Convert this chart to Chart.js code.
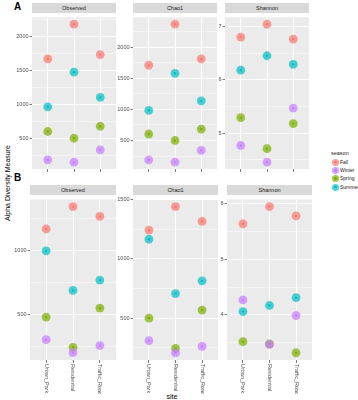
<!DOCTYPE html>
<html>
<head>
<meta charset="utf-8">
<script src="https://cdn.jsdelivr.net/npm/chart.js@4"></script>
<style>
  body { margin: 0; background: #fff; width: 358px; height: 400px; position: relative; overflow: hidden;
         font-family: "Liberation Sans", Arial, sans-serif; }
  canvas, .strip, .txt { position: absolute; }
  .strip { background: #D9D9D9; color: #1A1A1A; font-size: 5.5px; text-align: center; line-height: 10px; height: 10px; }
  .txt { white-space: nowrap; }
  .tag { font-weight: bold; font-size: 10px; }
  .key { position: absolute; width: 7px; height: 7px; border-radius: 50%; }
  .dot { position: absolute; left: 2.3px; top: 2.3px; width: 2.4px; height: 2.4px; border-radius: 50%; }
</style>
</head>
<body>
<div class="txt tag" style="left:14px;top:1px;">A</div>
<div class="txt tag" style="left:14px;top:172px;">B</div>
<div class="txt" style="left:7px;top:183px;font-size:7px;transform:translate(-50%,-50%) rotate(-90deg);">Alpha Diversity Measure</div>
<div class="txt" style="left:172px;top:393px;font-size:7px;transform:translateX(-50%);">site</div>

<script>
// categories
const sites = ['Urban_Park', 'Residential', 'Traffic_Road'];
const seasons = ['Fall', 'Winter', 'Spring', 'Summer'];
const colors = ['#F8766D', '#C77CFF', '#7CAE00', '#00BFC4'];

// values per season (Fall, Winter, Spring, Summer), one number per site
const observedA = [[1672, 2181, 1734], [187, 154, 333], [604, 505, 681], [967, 1476, 1104]];
const chao1A    = [[1709, 2368, 1810], [189, 153, 342], [604, 500, 683], [984, 1579, 1137]];
const shannonA  = [[6.80, 7.04, 6.76], [4.77, 4.46, 5.47], [5.29, 4.71, 5.18], [6.18, 6.45, 6.29]];
const observedB = [[1168, 1343, 1266], [304, 202, 257], [480, 244, 550], [997, 688, 769]];
const chao1B    = [[1240, 1438, 1314], [311, 208, 262], [500, 246, 568], [1164, 707, 814]];
const shannonB  = [[5.64, 5.95, 5.78], [4.27, 3.47, 3.99], [3.52, 3.48, 3.32], [4.06, 4.17, 4.31]];

// tick labels
const obsATicks = [500, 1000, 1500, 2000];
const obsAMinor = [250, 750, 1250, 1750, 2250];
const chaoATicks = [500, 1000, 1500, 2000];
const chaoAMinor = [250, 750, 1250, 1750, 2250];
const shanATicks = [5, 6, 7];
const shanAMinor = [4.5, 5.5, 6.5];
const obsBTicks = [500, 1000];
const obsBMinor = [250, 750, 1250];
const chaoBTicks = [500, 1000, 1500];
const chaoBMinor = [250, 750, 1250];
const shanBTicks = [4, 5, 6];
const shanBMinor = [3.5, 4.5, 5.5];

const FONT = '"Liberation Sans", Arial, sans-serif';

function alpha(hex, a) {
  const n = parseInt(hex.slice(1), 16);
  return `rgba(${n >> 16},${(n >> 8) & 255},${n & 255},${a})`;
}

const panelBg = {
  id: 'panelBg',
  beforeDraw(chart) {
    const a = chart.chartArea, c = chart.ctx;
    c.save();
    c.fillStyle = '#EBEBEB';
    c.fillRect(a.left, a.top, a.right - a.left, a.bottom - a.top);
    c.restore();
  }
};

const siteLabels = {
  id: 'siteLabels',
  afterDraw(chart) {
    if (!chart.options.plugins.siteLabels.show) return;
    const c = chart.ctx, xs = chart.scales.x, bottom = chart.chartArea.bottom;
    c.save();
    c.fillStyle = '#4D4D4D';
    c.font = '5.5px ' + FONT;
    c.textAlign = 'left';
    c.textBaseline = 'middle';
    sites.forEach((s, i) => {
      c.save();
      c.translate(xs.getPixelForValue(i), bottom + 4);
      c.rotate(Math.PI / 2);
      c.fillText(s, 0, 0);
      c.restore();
    });
    c.restore();
  }
};

function panel(title, box, values, yMin, yMax, majors, minors, showSites) {
  const YW = 20, XH = showSites ? 34 : 5;
  const strip = document.createElement('div');
  strip.className = 'strip';
  strip.style.cssText = `left:${box.x}px;top:${box.y - 10}px;width:${box.w}px;`;
  strip.textContent = title;
  document.body.appendChild(strip);

  const cv = document.createElement('canvas');
  cv.width = box.w + YW;
  cv.height = box.h + XH;
  cv.style.left = (box.x - YW) + 'px';
  cv.style.top = box.y + 'px';
  document.body.appendChild(cv);

  const datasets = [];
  values.forEach((vals, k) => {
    const pts = vals.map((v, i) => ({ x: i, y: v }));
    datasets.push({ label: seasons[k], data: pts, pointRadius: 4.4, borderWidth: 0,
                    backgroundColor: alpha(colors[k], 0.7) });
    datasets.push({ label: seasons[k], data: pts, pointRadius: 1.2, borderWidth: 0,
                    backgroundColor: colors[k] });
  });

  new Chart(cv, {
    type: 'scatter',
    data: { datasets },
    plugins: [panelBg, siteLabels],
    options: {
      responsive: false,
      animation: false,
      events: [],
      layout: { padding: 0, autoPadding: false },
      plugins: { legend: { display: false }, tooltip: { enabled: false }, siteLabels: { show: showSites } },
      scales: {
        x: {
          type: 'linear', min: -0.6, max: 2.6,
          afterBuildTicks: s => { s.ticks = sites.map((_, i) => ({ value: i })); },
          afterFit: s => { s.height = XH; },
          ticks: { display: false },
          grid: { color: '#fff', lineWidth: 1, drawTicks: true, tickLength: 3, tickColor: '#444', tickWidth: 0.7 },
          border: { display: false }
        },
        y: {
          min: yMin, max: yMax,
          afterBuildTicks: s => {
            s.ticks = majors.concat(minors).sort((a, b) => a - b).map(v => ({ value: v }));
          },
          afterFit: s => { s.width = YW; },
          ticks: {
            autoSkip: false, padding: 1, color: '#4D4D4D',
            font: { size: 5.5, family: FONT },
            callback: v => majors.includes(v) ? String(v) : ''
          },
          grid: {
            color: '#fff',
            lineWidth: c => majors.includes(c.tick && c.tick.value) ? 1 : 0.5,
            tickLength: 2.5, tickWidth: 0.7,
            tickColor: c => majors.includes(c.tick && c.tick.value) ? '#444' : 'rgba(0,0,0,0)'
          },
          border: { display: false }
        }
      }
    }
  });
}

panel('Observed', { x: 32, y: 13, w: 84, h: 156 }, observedA, 53, 2282, obsATicks, obsAMinor, false);
panel('Chao1',    { x: 133, y: 13, w: 84, h: 156 }, chao1A, 42, 2479, chaoATicks, chaoAMinor, false);
panel('Shannon',  { x: 225, y: 13, w: 84, h: 156 }, shannonA, 4.33, 7.17, shanATicks, shanAMinor, false);
panel('Observed', { x: 30, y: 195, w: 86, h: 165 }, observedB, 145, 1400, obsBTicks, obsBMinor, true);
panel('Chao1',    { x: 133, y: 195, w: 85, h: 165 }, chao1B, 148, 1500, chaoBTicks, chaoBMinor, true);
panel('Shannon',  { x: 227, y: 195, w: 85, h: 165 }, shannonB, 3.19, 6.08, shanBTicks, shanBMinor, true);

// legend
const lg = document.createElement('div');
lg.className = 'txt';
lg.style.cssText = 'left:331px;top:150px;font-size:5.5px;color:#1A1A1A;';
lg.textContent = 'season';
document.body.appendChild(lg);
seasons.forEach((s, k) => {
  const cy = 162 + k * 8.35;
  const key = document.createElement('div');
  key.className = 'key';
  key.style.cssText = `left:${332}px;top:${cy - 3.5}px;background:${alpha(colors[k], 0.7)};`;
  const dot = document.createElement('div');
  dot.className = 'dot';
  dot.style.background = colors[k];
  key.appendChild(dot);
  document.body.appendChild(key);
  const t = document.createElement('div');
  t.className = 'txt';
  t.style.cssText = `left:340px;top:${cy - 3.5}px;font-size:5px;line-height:7px;color:#1A1A1A;`;
  t.textContent = s;
  document.body.appendChild(t);
});
</script>
</body>
</html>
